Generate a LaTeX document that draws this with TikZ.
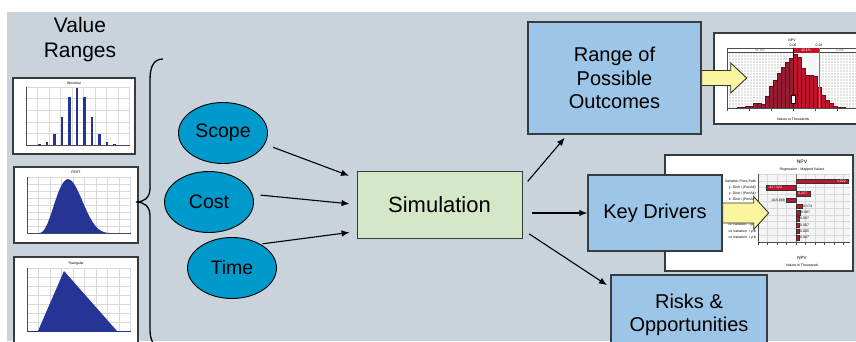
\documentclass[tikz,border=0pt]{standalone}
\usepackage{fontspec}
\setmainfont{Liberation Sans}
\usetikzlibrary{arrows.meta,positioning,shapes.geometric,calc}
\definecolor{bggray}{RGB}{200,211,219}
\definecolor{ovalblue}{RGB}{0,153,204}
\definecolor{simgreen}{RGB}{212,232,200}
\definecolor{boxblue}{RGB}{157,197,232}
\definecolor{arrowyellow}{RGB}{250,246,160}
\definecolor{chartblue}{RGB}{38,52,150}
\definecolor{chartred}{RGB}{190,20,45}
\definecolor{chartdark}{RGB}{150,30,50}
\definecolor{edgegray}{RGB}{55,60,65}

\begin{document}
\begin{tikzpicture}[x=1pt,y=-1pt,
  oval/.style={ellipse,draw=black,line width=0.9pt,fill=ovalblue,minimum width=89pt,
    minimum height=61pt,inner sep=0pt,font=\fontsize{19.5}{22}\selectfont},
  flowbox/.style={draw=edgegray,line width=1.4pt,inner sep=0pt,align=center,
    font=\fontsize{20}{23.5}\selectfont},
  arr/.style={-{Latex[length=8pt,width=6.5pt]},line width=1.1pt},
  chart/.style={draw=edgegray,line width=1.3pt,fill=white},
  gridline/.style={gray!30,line width=0.3pt},
  tinytext/.style={font=\fontsize{3.5}{4}\selectfont,inner sep=0pt},
  fatarrow/.style={draw=black!80,line width=0.9pt,fill=arrowyellow,line join=miter}
]
  \useasboundingbox (0,0) rectangle (856,341);
  \clip (0,0) rectangle (856,341);
  \fill[bggray] (7,12) rectangle (856,341);

  % Value ranges
  \node[align=center,font=\fontsize{21}{25}\selectfont] (ranges) at (80,40) {Value\\Ranges};

  % Binomial
  \draw[chart] (13,78) rectangle (135,154);
  \node[tinytext] (binomtitle) at (74,83.5) {Binomial};
  \foreach \gx in {26,37.5,...,130} \draw[gridline] (\gx,87) -- (\gx,145);
  \foreach \gy in {87,98.6,...,145} \draw[gridline] (26,\gy) -- (130,\gy);
  \draw[black!70,line width=0.5pt] (26,87) -- (26,145) -- (130,145);
  \foreach \h [count=\i from 0] in {1,3,11,28,48,57,48,28,11,3,1}
    \fill[chartblue] ({38.1+7.5*\i},145) rectangle ++(2.4,-\h);

  % PERT
  \draw[chart] (14,167) rectangle (138,243);
  \node[tinytext] (perttitle) at (76,172) {PERT};
  \foreach \gx in {27,38.5,...,131} \draw[gridline] (\gx,177) -- (\gx,233);
  \foreach \gy in {177,184,...,233} \draw[gridline] (27,\gy) -- (131,\gy);
  \draw[black!70,line width=0.5pt] (27,177) -- (27,233) -- (131,233);
  \fill[chartblue] (38,233) -- plot[domain=0:1,samples=50]
    ({38+80*\x},{233-54*(\x)^3*(1-\x)^5/0.005029}) -- (118,233) -- cycle;

  % Triangular
  \draw[chart] (14,257) rectangle (138,352);
  \node[tinytext] (triangtitle) at (76,263.5) {Triangular};
  \foreach \gx in {27,38.5,...,131} \draw[gridline] (\gx,268) -- (\gx,331);
  \foreach \gy in {268,277,...,331} \draw[gridline] (27,\gy) -- (131,\gy);
  \draw[black!70,line width=0.5pt] (27,268) -- (27,331);
  \fill[chartblue] (38,331) -- (64,271) -- (117,331) -- cycle;
  \draw[chartblue,line width=0.8pt] (27,331) -- (131,331);

  % Brace
  \draw[black,line width=1.3pt] (163,59) .. controls (154,59) and (150,66) .. (150,80)
    -- (150,188) .. controls (150,198) and (144,202) .. (136,202)
    .. controls (144,202) and (150,206) .. (150,216) -- (150,330)
    .. controls (150,342) and (155,348) .. (164,348);

  % Inputs
  \node[oval] (scope) at (223,133) {Scope};
  \node[oval] (cost) at (209,202) {Cost};
  \node[oval] (time) at (232,268) {Time};

  \node[flowbox,fill=simgreen,line width=1pt,minimum width=165pt,minimum height=67pt,
    font=\fontsize{22}{26}\selectfont] (sim) at (439.5,204.5) {Simulation};

  % NPV histogram
  \draw[chart] (714,33) rectangle (870,124);
  \node[tinytext] (histtitle) at (792,40) {NPV};
  \node[tinytext] at (793,44.8) {0.00};
  \node[tinytext] at (819,44.8) {0.23};
  \fill[gray!22] (727,52.5) rectangle (860,108);
  \foreach \gx in {728,731,...,860} \draw[white,line width=0.5pt] (\gx,52.5) -- (\gx,108);
  \foreach \gy in {54,57,...,108} \draw[white,line width=0.5pt] (727,\gy) -- (860,\gy);
  \fill[gray!6] (793,52.5) rectangle (819,108);
  \draw[black!70,line width=0.5pt,fill=white] (727,48) rectangle (860,52.5);
  \fill[chartred] (793,48) rectangle (819,52.5);
  \node[tinytext,text=black!60] at (760,50.3) {51.9\%};
  \node[tinytext,text=white] at (806,50.3) {43.1\%};
  \node[tinytext,text=black!60] at (840,50.3) {5.0\%};
  \foreach \h [count=\i from 0] in {1,1,2,2,5,5,4,12,22,28,35,41,46,50}
    \filldraw[fill=chartdark,draw=chartdark!60!black,line width=0.2pt] ({737+4*\i},108) rectangle ++(4,-\h);
  \foreach \h [count=\i from 0] in {54,51,40,33,33,32,21,13,8,5,2,1,1}
    \filldraw[fill=chartred,draw=chartred!60!black,line width=0.2pt] ({793+4*\i},108) rectangle ++(4,-\h);
  \draw[black,line width=0.8pt] (793,48) -- (793,108);
  \draw[gray,line width=0.6pt] (819,48) -- (819,108);
  \draw[black,fill=white,line width=0.5pt] (791,95) rectangle (795,103);
  \draw[black!70,line width=0.4pt] (727,52.5) -- (727,108) -- (860,108);
  \foreach \gx in {727,749,...,860} \draw[black!70,line width=0.4pt] (\gx,108) -- (\gx,110.5);
  \node[tinytext] at (793,119) {Values in Thousands};

  % Regression chart
  \draw[chart] (665,155) rectangle (853,271);
  \node[tinytext,font=\fontsize{5}{6}\selectfont] (regtitle) at (802,162) {NPV};
  \node[tinytext] at (802,170) {Regression - Mapped Values};
  \fill[gray!8] (758,174) rectangle (850,242);
  \foreach \gx in {758,767.5,...,850} \draw[gridline] (\gx,174) -- (\gx,242);
  \foreach \gy in {174,180.8,...,242} \draw[gridline] (758,\gy) -- (850,\gy);
  \draw[black!70,line width=0.4pt] (758,174) -- (758,242) -- (850,242);
  \draw[black!50,line width=0.4pt] (796,174) -- (796,242);
  \foreach \a/\b/\lx/\lab/\anc/\col [count=\k from 0] in
    {796/848/846/1.022/east/white, 766/796/768/-327.323/west/white,
     796/810/798/0.257/west/white, 786/796/785/-415.689/east/black,
     796/802/803/0.174/west/black, 796/800/801/0.007/west/black,
     796/799/800/0.007/west/black, 796/799/800/0.007/west/black,
     796/799/800/0.005/west/black, 796/799/800/0.007/west/black}
  {
    \filldraw[fill=chartred,draw=black!80,line width=0.4pt] (\a,{179+6.25*\k}) rectangle (\b,{183.5+6.25*\k});
    \node[tinytext,anchor=\anc,text=\col] at (\lx,{181.25+6.25*\k}) {\lab};
  }
  \foreach \lab [count=\k from 0] in {{Variation Price,Path},{y: Distr / (PertAlt)},
    {y: Distr / (PertAlt)},{k: Distr / (PertAlt)},{Distr / (Discre)},{e Variation: /},
    {ce Variation: /},{ce Variation: / grd},{ce Variation: / yrb},{ce Variation: / yrb}}
    \node[tinytext,anchor=east] at (756,{181.25+6.25*\k}) {\lab};
  \foreach \gx in {758,767.5,...,850} \draw[black!70,line width=0.4pt] (\gx,242) -- (\gx,244.5);
  \node[tinytext,font=\fontsize{4.5}{5}\selectfont] at (802,258) {NPV};
  \node[tinytext] at (802,265) {Values in Thousands};

  % Outputs
  \node[flowbox,fill=boxblue,minimum width=173pt,minimum height=112pt] (range) at (614.5,78) {Range of\\Possible\\Outcomes};
  \node[flowbox,fill=boxblue,minimum width=134pt,minimum height=76pt] (key) at (655,213) {Key Drivers};
  \node[flowbox,fill=boxblue,minimum width=156pt,minimum height=80pt] (risks) at (689,315) {Risks \&\\Opportunities};

  % Yellow arrows
  \draw[fatarrow] ($(range.east)+(0,7.5)$) -- ++(29,0) -- ++(0,7.5) -- ($(range.east)+(45,0)$)
    -- ($(range.east)+(29,-15)$) -- ++(0,7.5) -- ++(-29,0) -- cycle;
  \draw[fatarrow] ($(key.east)+(0,10)$) -- ++(31,0) -- ++(0,6.5) -- ($(key.east)+(46,0)$)
    -- ($(key.east)+(31,-16.5)$) -- ++(0,6.5) -- ++(-31,0) -- cycle;

  % Arrows
  \draw[arr,shorten <=9pt,shorten >=8pt] (scope.-15) -- ($(sim.west)+(0,-26)$);
  \draw[arr,shorten <=8pt,shorten >=7pt] (cost.10) -- (sim.west);
  \draw[arr,shorten <=2pt,shorten >=7pt] (time.40) -- ($(sim.west)+(0,27)$);
  \draw[arr,shorten <=8pt,shorten >=4pt] ($(sim.east)+(0,-17)$) -- ($(range.south west)+(40,0)$);
  \draw[arr,shorten <=9pt] (sim.east |- key.west) -- (key.west);
  \draw[arr,shorten <=8pt,shorten >=4pt] ($(sim.east)+(0,25)$) -- ($(risks.north west)+(0,13)$);
\end{tikzpicture}
\end{document}
